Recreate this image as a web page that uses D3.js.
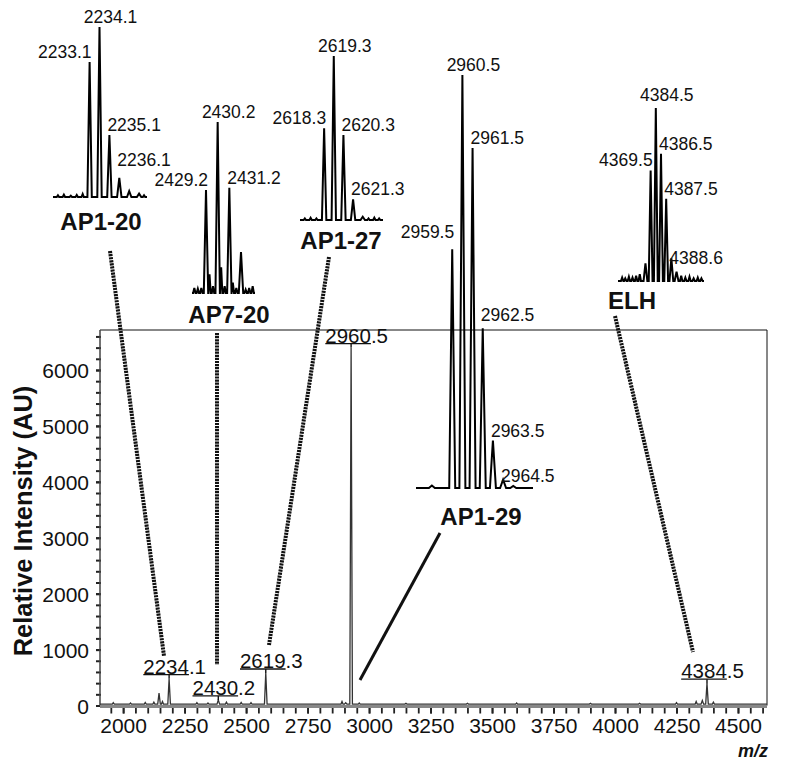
<!DOCTYPE html>
<html>
<head>
<meta charset="utf-8">
<script src="https://cdn.jsdelivr.net/npm/d3@7"></script>
<style>
  body { margin: 0; background: #fff; }
  text { font-family: "Liberation Sans", Arial, sans-serif; fill: #111; }
</style>
</head>
<body>
<svg id="chart" width="794" height="763"></svg>
<script>
// ---- main spectrum (m/z as drawn on the axis, intensity in AU)
let mainMz = [2146, 2187, 2387, 2580, 2905, 2927, 4355, 4374];
let mainInt = [220, 480, 100, 580, 50, 6400, 90, 400];
let mainLabels = ["", "2234.1", "2430.2", "2619.3", "", "2960.5", "", "4384.5"];
// small bumps on the baseline
let noiseMz = [1960, 2030, 2090, 2125, 2160, 2300, 2345, 2420, 2480, 2520, 2890, 2960, 3150, 3400, 3600, 3900, 4100, 4250, 4330, 4400];
let noiseInt = [50, 45, 55, 60, 70, 50, 45, 60, 55, 50, 70, 45, 40, 40, 45, 40, 40, 50, 70, 60];
let baseLevel = 25;

let xTicks = [2000, 2250, 2500, 2750, 3000, 3250, 3500, 3750, 4000, 4250, 4500];
let yTicks = [0, 1000, 2000, 3000, 4000, 5000, 6000];

// ---- insets: isotope clusters (relative intensity, %)
let ap120Mz = [2233.1, 2234.1, 2235.1, 2236.1, 2237.1, 2238.1];
let ap120Rel = [79.4, 100, 36.5, 11.2, 3.5, 2.0];
let ap120Labels = ["2233.1", "2234.1", "2235.1", "2236.1", "", ""];
let ap120NoiseMz = [2229.9, 2230.5, 2231.2, 2231.8, 2232.4, 2238.6];
let ap120NoiseRel = [1.0, 1.4, 0.8, 1.2, 1.8, 1.0];

let ap720Mz = [2429.2, 2430.2, 2431.2, 2432.2];
let ap720Rel = [60.2, 100, 61.5, 24];
let ap720Labels = ["2429.2", "2430.2", "2431.2", ""];
let ap720NoiseMz = [2428.2, 2428.5, 2428.8, 2429.5, 2429.8, 2430.5, 2430.8, 2431.5, 2431.8, 2432.6, 2432.9, 2433.2];
let ap720NoiseRel = [3, 2.5, 3, 11, 4, 15, 4, 6, 3, 2, 3, 4];

let ap127Mz = [2618.3, 2619.3, 2620.3, 2621.3, 2622.3];
let ap127Rel = [55.9, 100, 51.8, 12.6, 2.0];
let ap127Labels = ["2618.3", "2619.3", "2620.3", "2621.3", ""];
let ap127NoiseMz = [2616.3, 2616.9, 2617.5, 2622.9, 2623.5, 2624.0];
let ap127NoiseRel = [1.0, 1.3, 1.0, 1.0, 1.4, 1.0];

let ap129Mz = [2957.5, 2959.5, 2960.5, 2961.5, 2962.5, 2963.5, 2964.5, 2965.5];
let ap129Rel = [0.6, 57.8, 100, 82.3, 38.7, 11.5, 2.0, 0.5];
let ap129Labels = ["", "2959.5", "2960.5", "2961.5", "2962.5", "2963.5", "2964.5", ""];
let ap129NoiseMz = [];
let ap129NoiseRel = [];

let elhMz = [4382.5, 4383.5, 4384.5, 4385.5, 4386.5, 4387.5, 4388.5];
let elhRel = [10.2, 63.9, 100, 73.5, 47.5, 13.1, 5.4];
let elhLabels = ["", "4369.5", "4384.5", "4386.5", "4387.5", "4388.6", ""];
let elhNoiseMz = [4378.0, 4378.6, 4379.3, 4380.0, 4380.7, 4381.4, 4389.4, 4390.2, 4391.0, 4391.8, 4392.6, 4393.3];
let elhNoiseRel = [2, 1.5, 2.5, 2, 3, 4, 3, 2, 2.5, 1.5, 2, 1.5];

// layout of each inset on the page (sides: label left / centre / right of its peak, lift: extra vertical nudge)
let insets = [
  { title: "AP1-20", mz: ap120Mz, rel: ap120Rel, labels: ap120Labels, nMz: ap120NoiseMz, nRel: ap120NoiseRel,
    domain: [2229.4, 2238.9], range: [53, 147], base: 197, h: 170, hw: 2.2, sides: "lcrr", lift: [0, 0, 0, -8],
    tx: 101, ty: 230, line: [[110, 251], [164, 656]], dotted: true },
  { title: "AP7-20", mz: ap720Mz, rel: ap720Rel, labels: ap720Labels, nMz: ap720NoiseMz, nRel: ap720NoiseRel,
    domain: [2428.0, 2433.4], range: [192, 255], base: 293, h: 171, hw: 2.2, sides: "lcr", lift: [0, 0, 0],
    tx: 229, ty: 323, line: [[217, 333], [217, 665]], dotted: true },
  { title: "AP1-27", mz: ap127Mz, rel: ap127Rel, labels: ap127Labels, nMz: ap127NoiseMz, nRel: ap127NoiseRel,
    domain: [2615.8, 2624.4], range: [300, 383], base: 220, h: 164, hw: 2.2, sides: "lcrr", lift: [0, 0, 0, 0],
    tx: 341, ty: 249, line: [[329, 257], [269, 645]], dotted: true },
  { title: "AP1-29", mz: ap129Mz, rel: ap129Rel, labels: ap129Labels, nMz: ap129NoiseMz, nRel: ap129NoiseRel,
    domain: [2955.94, 2967.44], range: [416, 533], base: 488, h: 413, hw: 3, sides: "lcrrrr", lift: [-7, 0, 0, -3, 0, 6],
    tx: 481, ty: 525, line: [[440, 533], [360, 680]], dotted: false },
  { title: "ELH", mz: elhMz, rel: elhRel, labels: elhLabels, nMz: elhNoiseMz, nRel: elhNoiseRel,
    domain: [4377.2, 4393.8], range: [618, 704], base: 281, h: 173, hw: 1.9, sides: "lcrrr", lift: [0, -3, 0, 0, 10],
    tx: 632, ty: 309, line: [[615, 316], [693, 652]], dotted: true }
];

let svg = d3.select("#chart");
let plot = { left: 100, right: 767, top: 330, bottom: 705.5 };

let x = d3.scaleLinear().domain([1906, 4618]).range([plot.left, plot.right]);
let y = d3.scaleLinear().domain([0, 6715]).range([plot.bottom, plot.top]);

// frame (top + right thin lines)
svg.append("path")
  .attr("d", `M${plot.left},${plot.top}H${plot.right}V${plot.bottom}`)
  .attr("fill", "none").attr("stroke", "#111").attr("stroke-width", 1);

// minor ticks
svg.append("g")
  .attr("transform", `translate(0,${plot.bottom})`)
  .call(d3.axisBottom(x).tickValues(d3.range(1950, 4601, 50)).tickSize(8).tickFormat(""))
  .call(g => g.select(".domain").remove())
  .call(g => g.selectAll("line").attr("stroke", "#222").attr("stroke-width", 1.8));

svg.append("g")
  .attr("transform", `translate(${plot.left},0)`)
  .call(d3.axisLeft(y).tickValues(d3.range(200, 6700, 200)).tickSize(4).tickFormat(""))
  .call(g => g.select(".domain").remove())
  .call(g => g.selectAll("line").attr("stroke", "#222").attr("stroke-width", 2).attr("x2", -4).attr("x1", 1));

// x axis
svg.append("g")
  .attr("transform", `translate(0,${plot.bottom})`)
  .call(d3.axisBottom(x).tickValues(xTicks).tickSize(8).tickFormat(d3.format("d")))
  .call(g => g.select(".domain").remove())
  .call(g => g.selectAll("line").attr("stroke", "#222").attr("stroke-width", 1.8))
  .call(g => g.selectAll("text").attr("y", 27.5).attr("dy", 0)
    .style("font-size", "21px").style("font-family", "Liberation Sans, Arial, sans-serif").attr("fill", "#111"));

// y axis
svg.append("g")
  .attr("transform", `translate(${plot.left},0)`)
  .call(d3.axisLeft(y).tickValues(yTicks).tickSize(4).tickPadding(7).tickFormat(d3.format("d")))
  .call(g => g.select(".domain").remove())
  .call(g => g.selectAll("line").attr("stroke", "#222").attr("stroke-width", 2).attr("x1", 1))
  .call(g => g.selectAll("text").attr("dy", "0.36em")
    .style("font-size", "21px").style("font-family", "Liberation Sans, Arial, sans-serif").attr("fill", "#111"));

// axis lines
svg.append("line")
  .attr("x1", plot.left).attr("x2", plot.left).attr("y1", plot.top).attr("y2", plot.bottom)
  .attr("stroke", "#444").attr("stroke-width", 1.5);

// main spectrum trace
let pts = [];
mainMz.forEach((m, i) => pts.push({ mz: m, v: mainInt[i], hw: 1.3 }));
noiseMz.forEach((m, i) => pts.push({ mz: m, v: noiseInt[i], hw: 1 }));
pts.sort((a, b) => a.mz - b.mz);
let tr = [[x(1906), y(baseLevel)]];
pts.forEach(p => {
  let px = x(p.mz);
  tr.push([px - p.hw, y(baseLevel)], [px, y(p.v)], [px + p.hw, y(baseLevel)]);
});
tr.push([x(4618), y(baseLevel)]);
svg.append("path")
  .attr("d", d3.line()(tr))
  .attr("fill", "none").attr("stroke", "#333").attr("stroke-width", 1.3);

svg.append("line")
  .attr("x1", plot.left).attr("x2", plot.right).attr("y1", plot.bottom + 1).attr("y2", plot.bottom + 1)
  .attr("stroke", "#888").attr("stroke-width", 3);

// peak labels with underlined integer part
mainLabels.forEach((lab, i) => {
  if (!lab) return;
  let px = x(mainMz[i]);
  let py = y(mainInt[i]);
  let t = svg.append("text")
    .attr("y", py - 5)
    .style("font-size", "20.5px")
    .text(lab);
  let w4 = t.node().getSubStringLength(0, 4);
  let x0 = px - 3 - w4 / 2;
  t.attr("x", x0);
  svg.append("line")
    .attr("x1", x0).attr("x2", x0 + w4).attr("y1", py - 4).attr("y2", py - 4)
    .attr("stroke", "#111").attr("stroke-width", 1.4);
  svg.append("line")
    .attr("x1", px).attr("x2", px).attr("y1", py - 4).attr("y2", py)
    .attr("stroke", "#111").attr("stroke-width", 1.4);
});

// y title and x title
svg.append("text")
  .attr("transform", "translate(32,521) rotate(-90)")
  .attr("text-anchor", "middle")
  .style("font-size", "25.5px").style("font-weight", "bold")
  .text("Relative Intensity (AU)");

svg.append("text")
  .attr("x", 768).attr("y", 757)
  .attr("text-anchor", "end")
  .style("font-size", "18px").style("font-weight", "bold").style("font-style", "italic")
  .text("m/z");

// insets
insets.forEach(ins => {
  let sx = d3.scaleLinear().domain(ins.domain).range(ins.range);
  let sy = d3.scaleLinear().domain([0, 100]).range([ins.base, ins.base - ins.h]);
  let g = svg.append("g");

  let ip = [];
  ins.mz.forEach((m, i) => ip.push({ mz: m, v: ins.rel[i], hw: ins.hw }));
  ins.nMz.forEach((m, i) => ip.push({ mz: m, v: ins.nRel[i], hw: 1.2 }));
  ip.sort((a, b) => a.mz - b.mz);
  let path = [[ins.range[0], sy(0)]];
  ip.forEach(p => {
    let px = sx(p.mz);
    path.push([px - p.hw, sy(0)], [px, sy(p.v)], [px + p.hw, sy(0)]);
  });
  path.push([ins.range[1], sy(0)]);
  g.append("path")
    .attr("d", d3.line()(path))
    .attr("fill", "none").attr("stroke", "#000").attr("stroke-width", 2)
    .attr("stroke-linejoin", "miter");

  // peak labels
  let k = 0;
  ins.labels.forEach((lab, i) => {
    if (!lab) return;
    let side = ins.sides[k];
    let lift = ins.lift[k];
    k++;
    let px = sx(ins.mz[i]);
    let py = sy(ins.rel[i]);
    let anchor = side === "l" ? "end" : side === "c" ? "middle" : "start";
    let lx = side === "l" ? px + 2 : side === "c" ? px + 11 : px - 2;
    g.append("text")
      .attr("x", lx).attr("y", py - 4 + lift)
      .attr("text-anchor", anchor)
      .style("font-size", "17.5px")
      .text(lab);
  });

  g.append("text")
    .attr("x", ins.tx).attr("y", ins.ty)
    .attr("text-anchor", "middle")
    .style("font-size", "24px").style("font-weight", "bold")
    .text(ins.title);

  svg.append("line")
    .attr("x1", ins.line[0][0]).attr("y1", ins.line[0][1])
    .attr("x2", ins.line[1][0]).attr("y2", ins.line[1][1])
    .attr("stroke", "#111").attr("stroke-width", ins.dotted ? 4 : 3)
    .attr("stroke-dasharray", ins.dotted ? "2.2,0.9" : null);
});
</script>
</body>
</html>
